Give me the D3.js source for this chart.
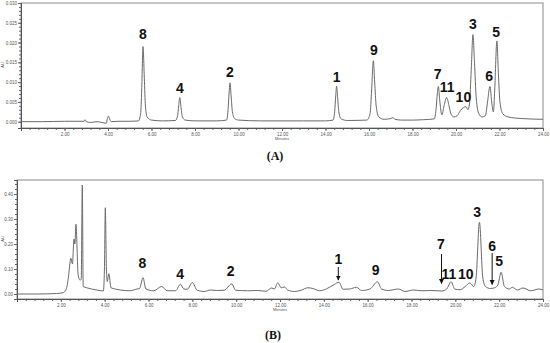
<!DOCTYPE html>
<html>
<head>
<meta charset="utf-8">
<script src="https://cdn.jsdelivr.net/npm/d3@7"></script>
<style>
  body { margin: 0; background: #fff; }
  svg { display: block; }
</style>
</head>
<body>
<svg id="chart" width="550" height="343"></svg>
<script>
// [minutes, AU] (A)
var traceA = [[0,0.0000],[1.0,0.0000],[2.0,0.0001],[2.9,0.0001],[2.95,0.0005],[3.0,0.0000],[3.2,-0.0002],
  [3.5,0.0000],[3.8,-0.0003],[3.92,-0.0004],[3.97,0.0008],[4.02,0.0014],[4.08,0.0006],[4.15,0.0000],
  [4.5,0.0001],[5.0,0.0001],[5.4,0.0002],[5.5,0.0020],[5.55,0.0080],[5.61,0.0190],[5.67,0.0110],
  [5.72,0.0040],[5.8,0.0012],[6.0,0.0004],[6.5,0.0002],[7.1,0.0003],[7.2,0.0015],[7.25,0.0040],
  [7.3,0.0061],[7.36,0.0035],[7.42,0.0012],[7.55,0.0004],[8.0,0.0002],[9.0,0.0002],[9.45,0.0004],
  [9.52,0.0030],[9.57,0.0075],[9.61,0.0098],[9.66,0.0065],[9.72,0.0025],[9.82,0.0008],[10.0,0.0004],
  [11.0,0.0002],[12.0,0.0002],[13.0,0.0002],[14.0,0.0002],[14.35,0.0004],[14.42,0.0025],[14.47,0.0065],
  [14.51,0.0090],[14.56,0.0060],[14.62,0.0022],[14.72,0.0007],[15.0,0.0003],[15.9,0.0004],[16.05,0.0020],
  [16.12,0.0080],[16.2,0.0154],[16.26,0.0100],[16.33,0.0040],[16.45,0.0012],[16.7,0.0006],[17.0,0.0008],
  [17.1,0.0010],[17.2,0.0006],[17.5,0.0004],[18.0,0.0004],[18.5,0.0005],[19.0,0.0007],[19.08,0.0030],
  [19.14,0.0070],[19.19,0.0089],[19.25,0.0055],[19.35,0.0017],[19.45,0.0040],[19.57,0.0061],[19.68,0.0040],
  [19.78,0.0018],[19.9,0.0012],[20.05,0.0015],[20.2,0.0028],[20.35,0.0036],[20.46,0.0038],[20.55,0.0030],
  [20.62,0.0045],[20.7,0.0130],[20.78,0.0220],[20.85,0.0150],[20.93,0.0060],[21.05,0.0020],[21.2,0.0012],
  [21.35,0.0015],[21.45,0.0050],[21.56,0.0089],[21.65,0.0045],[21.72,0.0025],[21.78,0.0080],[21.88,0.0204],
  [21.95,0.0120],[22.02,0.0050],[22.15,0.0020],[22.4,0.0012],[23.0,0.0008],[24.0,0.0006]];

// [minutes, AU] (B)
var traceB = [[0,0.000],[1.0,0.000],[1.8,0.002],[2.1,0.005],[2.25,0.02],[2.34,0.063],[2.46,0.143],[2.53,0.12],
  [2.6,0.22],[2.64,0.2],[2.69,0.279],[2.79,0.076],[2.87,0.056],[2.93,0.058],[2.98,0.436],[3.02,0.03],
  [3.18,0.025],[3.64,0.016],[3.94,0.012],[3.99,0.1],[4.03,0.345],[4.08,0.1],[4.12,0.05],[4.19,0.081],
  [4.29,0.025],[4.48,0.02],[4.71,0.016],[5.17,0.013],[5.47,0.02],[5.59,0.022],[5.75,0.065],[5.88,0.02],
  [6.24,0.013],[6.6,0.03],[6.85,0.013],[7.23,0.013],[7.46,0.039],[7.61,0.02],[7.77,0.019],[8.0,0.046],
  [8.22,0.015],[8.53,0.01],[8.83,0.016],[9.14,0.014],[9.45,0.015],[9.8,0.04],[9.98,0.015],[10.52,0.013],
  [10.98,0.014],[11.36,0.011],[11.62,0.024],[11.74,0.02],[11.9,0.045],[12.05,0.025],[12.2,0.028],
  [12.35,0.016],[12.66,0.01],[12.96,0.015],[13.27,0.025],[13.5,0.022],[13.8,0.013],[14.11,0.02],
  [14.49,0.039],[14.69,0.047],[14.88,0.019],[15.18,0.02],[15.49,0.027],[15.72,0.014],[16.1,0.02],
  [16.45,0.049],[16.63,0.02],[16.94,0.014],[17.4,0.02],[17.7,0.01],[18.09,0.016],[18.47,0.013],
  [18.93,0.014],[19.38,0.012],[19.6,0.02],[19.81,0.049],[19.97,0.02],[20.22,0.017],[20.45,0.03],
  [20.66,0.044],[20.84,0.03],[20.95,0.068],[21.1,0.287],[21.25,0.068],[21.37,0.03],[21.6,0.022],
  [21.8,0.025],[21.94,0.036],[22.09,0.087],[22.24,0.03],[22.46,0.02],[22.6,0.027],[22.83,0.016],
  [23.09,0.024],[23.44,0.013],[23.82,0.02],[24.0,0.016]];

// peak numbers: [label, minutes, AU] (where the number sits)
var peaksA = [["8",5.6,0.0221],["4",7.31,0.0084],["2",9.61,0.0125],["1",14.51,0.0114],["9",16.23,0.0181],
  ["7",19.16,0.0120],["11",19.59,0.0087],["10",20.34,0.0062],["3",20.78,0.0247],["6",21.52,0.0115],
  ["5",21.85,0.0227]];
var peaksB = [["8",5.72,0.123],["4",7.44,0.079],["2",9.75,0.093],["1",14.66,0.139],["9",16.36,0.096],
  ["7",19.34,0.2],["11",19.71,0.08],["10",20.48,0.08],["3",21.0,0.329],["6",21.68,0.193],["5",22.0,0.132]];
// arrows in B: [minutes, from AU, to AU]
var arrowsB = [[14.66,0.108,0.056],[19.37,0.16,0.042],[21.68,0.164,0.038]];

var xTicks = [2,4,6,8,10,12,14,16,18,20,22,24];
var yTicksA = [0,0.005,0.010,0.015,0.020,0.025,0.030];
var yTicksB = [0,0.10,0.20,0.30,0.40];

var svg = d3.select('#chart');

svg.append('defs').append('marker')
  .attr('id','arrow')
  .attr('viewBox','0 0 10 10')
  .attr('refX',9).attr('refY',5)
  .attr('markerWidth',5).attr('markerHeight',6)
  .attr('markerUnits','userSpaceOnUse')
  .attr('orient','auto')
  .append('path').attr('d','M0,0L10,5L0,10z').attr('fill','#111');

function drawPanel(o){
  var x = d3.scaleLinear().domain([0,24]).range([o.left,o.right]);
  var y = d3.scaleLinear().domain(o.yDomain).range([o.bottom,o.top]);
  var g = svg.append('g');

  // frame
  g.append('rect')
    .attr('x',o.left).attr('y',o.top)
    .attr('width',o.right-o.left).attr('height',o.bottom-o.top)
    .attr('fill','none').attr('stroke','#8a8a8a').attr('stroke-width',1);

  // minor ticks
  var xa = g.append('g').attr('transform','translate(0,'+o.bottom+')');
  xa.call(d3.axisBottom(x).tickValues(d3.range(0,24.01,0.4)).tickSize(2).tickFormat(''));
  xa.append('g').call(d3.axisBottom(x).tickValues(xTicks).tickSize(3).tickPadding(2).tickFormat(d3.format('.2f')));
  xa.selectAll('.domain').attr('stroke','#555');
  xa.selectAll('line').attr('stroke','#666');
  xa.selectAll('text').attr('font-size','4.5px').attr('fill','#555').attr('font-family','Liberation Sans, Arial, sans-serif');

  var ya = g.append('g').attr('transform','translate('+o.left+',0)');
  ya.call(d3.axisLeft(y).tickValues(d3.range(o.yTicks[0],o.yDomain[1],o.minor)).tickSize(2).tickFormat(''));
  ya.append('g').call(d3.axisLeft(y).tickValues(o.yTicks).tickSize(3).tickPadding(1).tickFormat(d3.format(o.fmt)));
  ya.selectAll('.domain').attr('stroke','#555');
  ya.selectAll('line').attr('stroke','#666');
  ya.selectAll('text').attr('font-size','4.5px').attr('fill','#555').attr('font-family','Liberation Sans, Arial, sans-serif');

  g.append('text').attr('x',(o.left+o.right)/2).attr('y',o.bottom+12)
    .attr('text-anchor','middle').attr('font-size','4px').attr('fill','#555')
    .attr('font-family','Liberation Sans, Arial, sans-serif').text('Minutes');
  g.append('text').attr('transform','translate(4,'+o.auY+') rotate(-90)')
    .attr('text-anchor','middle').attr('font-size','4px').attr('fill','#555')
    .attr('font-family','Liberation Sans, Arial, sans-serif').text('AU');

  var line = d3.line().x(function(d){return x(d[0]);}).y(function(d){return y(d[1]);})
    .curve(d3.curveMonotoneX);
  g.append('path').datum(o.trace)
    .attr('d',line).attr('fill','none').attr('stroke','#6a6a6a').attr('stroke-width',1);

  g.selectAll('.peak').data(o.peaks).enter().append('text')
    .attr('x',function(d){return x(d[1]);})
    .attr('y',function(d){return y(d[2]);})
    .attr('dy','0.36em')
    .attr('text-anchor','middle')
    .attr('font-family',o.labelFont)
    .attr('font-weight','bold')
    .attr('font-size',o.labelSize)
    .attr('fill','#111')
    .text(function(d){return d[0];});

  (o.arrows || []).forEach(function(a){
    g.append('line')
      .attr('x1',x(a[0])).attr('x2',x(a[0]))
      .attr('y1',y(a[1])).attr('y2',y(a[2]))
      .attr('stroke','#111').attr('stroke-width',1)
      .attr('marker-end','url(#arrow)');
  });

  svg.append('text').attr('x',(o.left+o.right)/2 - 7).attr('y',o.capY)
    .attr('text-anchor','middle')
    .attr('font-family','Liberation Serif, Times New Roman, serif')
    .attr('font-weight','bold').attr('font-size','12px').attr('fill','#111')
    .text(o.caption);
}

drawPanel({left:21,right:543,top:3,bottom:128,yDomain:[-0.0016,0.030],yTicks:yTicksA,minor:0.001,
  fmt:'.3f',trace:traceA,peaks:peaksA,labelFont:'Liberation Sans, Arial, sans-serif',labelSize:'14px',
  auY:65,capY:160,caption:'(A)'});
drawPanel({left:17,right:543,top:180,bottom:299,yDomain:[-0.02,0.456],yTicks:yTicksB,minor:0.02,
  fmt:'.2f',trace:traceB,peaks:peaksB,arrows:arrowsB,
  labelFont:'Liberation Sans Narrow, Liberation Sans, Arial, sans-serif',labelSize:'14px',
  auY:239,capY:339,caption:'(B)'});
</script>
</body>
</html>
